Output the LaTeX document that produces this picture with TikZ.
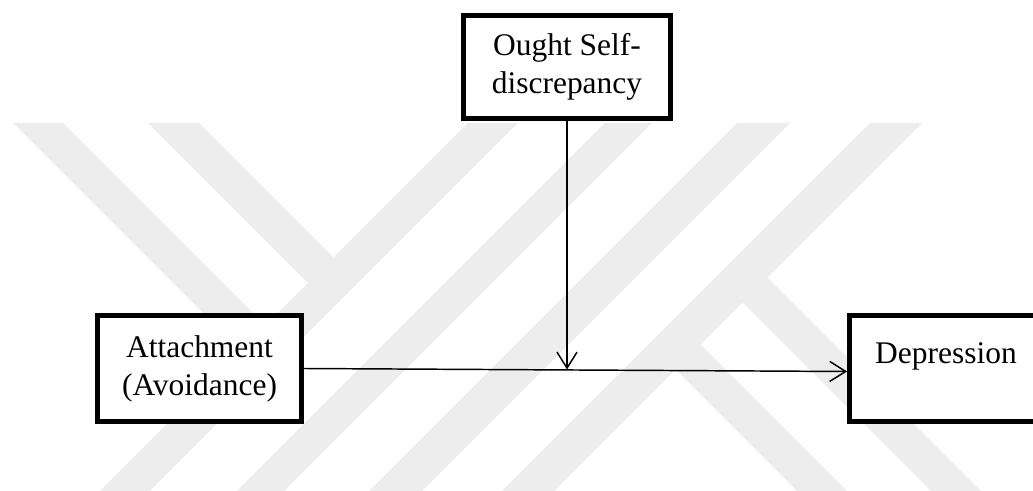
\documentclass[tikz,border=0pt]{standalone}
\usepackage{fontspec}
\setmainfont{Liberation Serif}
\usetikzlibrary{arrows.meta}
\definecolor{wmgray}{RGB}{237,237,237}
\tikzset{
  varbox/.style={draw=black, line width=3.6pt, fill=white, inner sep=0pt,
    align=center, font=\fontsize{23.6}{28.5}\selectfont},
  link/.style={draw=black, line width=1.1pt,
    -{Straight Barb[length=12pt,width=15pt,line width=1.1pt]}},
  band/.style={fill=wmgray, draw=none}
}
\begin{document}
\begin{tikzpicture}[x=0.75pt, y=-0.75pt]
\path[use as bounding box] (0,0) rectangle (1033,491);
\clip (0,0) rectangle (1033,491);

% light background emblem: diagonal bands
% long strokes running down to the left
\fill[band] (468,123) -- (518,123) -- (146,495) -- (96,495) -- cycle;
\fill[band] (605,123) -- (652,123) -- (280,495) -- (233,495) -- cycle;
\fill[band] (737,123) -- (790,123) -- (418,495) -- (365,495) -- cycle;
\fill[band] (870,123) -- (922,123) -- (550,495) -- (498,495) -- cycle;
% short arms joining the first stroke
\fill[band] (13,123) -- (63,123) -- (275,335) -- (250,360) -- cycle;
\fill[band] (148,123) -- (199,123) -- (343,267) -- (317.5,292.5) -- cycle;
% legs branching off the last stroke
\fill[band] (760,270) -- (985,495) -- (935,495) -- (735,295) -- cycle;
\fill[band] (693,337) -- (851,495) -- (801,495) -- (668,362) -- cycle;

% variables
\node[varbox, minimum width=155.5pt, minimum height=77.25pt] (ought) at (567,67) {Ought Self-\\discrepancy};
\node[varbox, minimum width=153pt, minimum height=79.5pt] (att) at (199.5,368.5) {Attachment\\(Avoidance)};
\node[varbox, minimum width=144.75pt, minimum height=79.5pt, text height=16.5pt, text depth=24pt] (dep) at (946,368.5) {Depression};

% moderation point on the main path
\coordinate (m) at (567,369.5);

\draw[link] (ought) -- (m);
\draw[link] (att.east) -- ([yshift=-2.25pt]dep.west);
\end{tikzpicture}
\end{document}
